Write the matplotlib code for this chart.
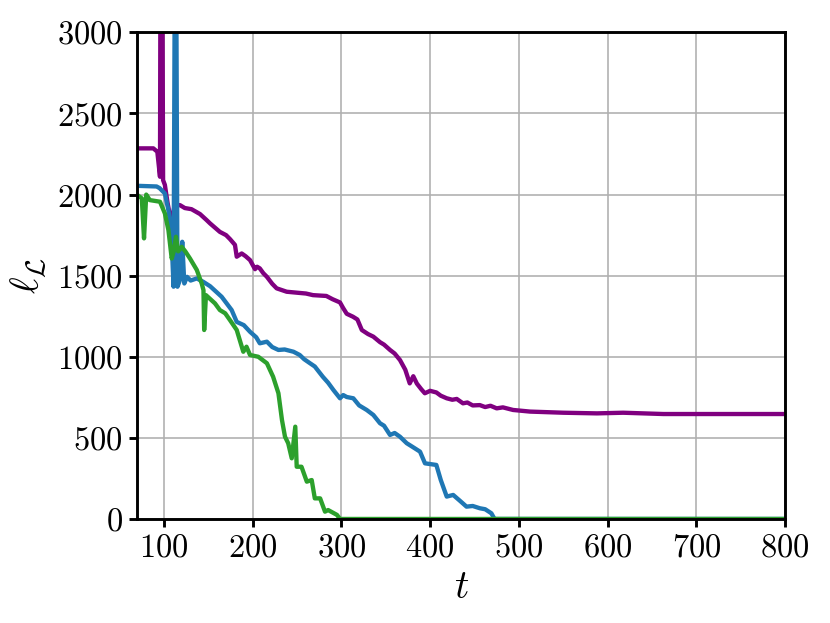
import numpy as np
import matplotlib
matplotlib.use("Agg")
import matplotlib.pyplot as plt

# purple run
t_purple = [70, 88, 92.5, 95.5, 96.5, 97.5, 99, 101, 104, 107, 109, 112, 118, 123.5, 131,
            140.6, 148, 152, 163, 170, 174.5, 180, 182, 187.6, 192, 197, 202.6, 205, 208, 212,
            216, 222, 227, 238.3, 250, 260, 268, 283, 290, 298.4, 302, 306, 313, 318, 323,
            330, 336, 343.5, 348, 354.8, 360, 366, 372, 377, 381, 385, 390, 394, 400, 407,
            412, 418.7, 425, 430, 437, 442, 448, 456, 462, 468, 475, 482,
            493.5, 512.6, 550, 588, 617.5, 663, 719, 800]
l_purple = [2285, 2285, 2264, 2110, 4500, 4500, 2089, 2060, 1950, 1863, 1843, 1935, 1935, 1917, 1910,
            1880, 1843, 1822, 1770, 1750, 1725, 1690, 1617, 1637, 1620, 1596, 1540, 1555, 1545, 1515,
            1493, 1450, 1422, 1401, 1395, 1390, 1380, 1375, 1355, 1335, 1300, 1265, 1247, 1230, 1165,
            1140, 1124, 1090, 1075, 1042, 1020, 980, 920, 836, 880, 835, 800, 775, 790, 780,
            760, 744, 735, 740, 713, 718, 700, 702, 690, 698, 682, 688,
            672, 662, 655, 651, 655, 647, 647, 647]

# blue run
t_blue = [70, 91.7, 95, 101, 105, 108, 110.8, 113, 115.2, 118, 120.6, 122.9, 126, 130,
          137, 144.3, 152, 165, 176.3, 182, 190, 197, 204, 208, 216, 222, 229, 236, 246, 253,
          258, 264.6, 270, 276, 279, 285, 291, 298.4, 302, 306, 313.4, 320, 328.5, 336,
          343.5, 348, 354.8, 360, 366, 373.6, 380, 388.6, 394.2, 407, 412, 418.7, 426, 434,
          441, 448, 456, 462, 469, 472.6, 800]
l_blue = [2054, 2050, 2040, 2007, 1904, 1793, 1432, 4500, 1432, 1473, 1709, 1452, 1493, 1470,
          1483, 1462, 1435, 1370, 1288, 1215, 1195, 1154, 1120, 1083, 1093, 1060, 1042, 1045, 1031, 1011,
          985, 960, 940, 898, 877, 840, 795, 744, 764, 752, 744, 700, 672, 641,
          590, 575, 518, 530, 507, 467, 445, 415, 343, 333, 240, 138, 148, 110,
          76, 80, 66, 60, 35, 0, 0]

# green run
t_green = [70, 75, 77.5, 80, 84, 95.5, 101, 105, 108.7, 111, 113.5, 116, 120, 124, 129.3,
           137, 142.5, 144.5, 145.3, 147.3, 157.5, 163, 169, 174.4, 182, 189.4, 193, 197,
           206.3, 216, 223, 229, 233, 236.4, 240, 244, 248, 249.6, 255, 261, 266.5, 270,
           276, 281.5, 285, 295, 298.4, 800]
l_green = [1997, 1977, 1730, 2000, 1966, 1956, 1884, 1781, 1606, 1650, 1740, 1650, 1678, 1650, 1606,
           1535, 1452, 1411, 1165, 1380, 1329, 1288, 1268, 1226, 1165, 1031, 1062, 1011,
           1000, 960, 877, 775, 610, 507, 467, 374, 569, 322, 322, 230, 240, 127,
           127, 45, 55, 25, 0, 0]

plt.rcParams["font.family"] = "cmr10"
plt.rcParams["mathtext.fontset"] = "cm"
plt.rcParams["axes.formatter.use_mathtext"] = True

fig, ax = plt.subplots(figsize=(830 / 130, 623 / 130), dpi=130)
fig.subplots_adjust(left=0.1655, right=0.9458, bottom=0.167, top=0.948)

ax.plot(t_purple, l_purple, color="purple", lw=2.4)
ax.plot(t_blue, l_blue, color="#1f77b4", lw=2.4)
ax.plot(t_green, l_green, color="#2ca02c", lw=2.4)

ax.set_xlim(70, 800)
ax.set_ylim(0, 3000)
ax.set_xticks(np.arange(100, 801, 100))
ax.set_yticks(np.arange(0, 3001, 500))
ax.grid(True, color="#b0b0b0", lw=0.9)
ax.set_axisbelow(True)

for s in ax.spines.values():
    s.set_linewidth(1.6)
ax.tick_params(labelsize=18, width=1.6, length=4.5)

ax.set_xlabel("$t$", fontsize=22)
ax.set_ylabel(r"$\ell_\mathcal{L}$", fontsize=22)

fig.savefig("out.png", dpi=130)
